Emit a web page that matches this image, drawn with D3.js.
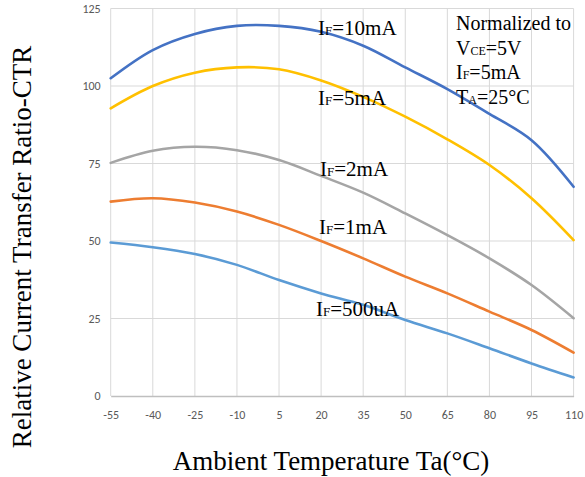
<!DOCTYPE html>
<meta charset="utf-8">
<head>
  <title>Relative CTR vs ambient temperature</title>
</head>
<style>
body { margin: 0; background: #fff; }
.tick text { font-family: Calibri, Carlito, "Liberation Sans", sans-serif; font-size: 12px; fill: #595959; }
.note { font-family: "Times New Roman", "Liberation Serif", serif; fill: #000; }
</style>
<body>
  <div id="content"></div>
  <script src="https://cdnjs.cloudflare.com/ajax/libs/d3/7.8.5/d3.min.js"></script>
  <script>

// Data
var temps = [-55, -40, -25, -10, 5, 20, 35, 50, 65, 80, 95, 110];
var if10mA  = [102.5, 111.6, 116.8, 119.4, 119.4, 117.5, 113, 106, 99, 91, 82.5, 67.5];
var if5mA   = [92.8, 100, 104.3, 106, 105.4, 101.8, 96.5, 90.1, 82.8, 74.5, 63.8, 50.3];
var if2mA   = [75.2, 79.1, 80.4, 79.3, 76.1, 71, 65.6, 58.9, 51.9, 44.4, 35.8, 25.1];
var if1mA   = [62.7, 63.8, 62.4, 59.5, 55.2, 50, 44.4, 38.5, 33.1, 27.2, 21.3, 14];
var if500uA = [49.5, 48, 45.8, 42.3, 37.4, 33.1, 29.4, 24.5, 20.2, 15.4, 10.5, 6];
var yTicks = [0, 25, 50, 75, 100, 125];

var series = [
  {name: '10mA', values: if10mA, color: '#4472C4'},
  {name: '5mA', values: if5mA, color: '#FFC000'},
  {name: '2mA', values: if2mA, color: '#A5A5A5'},
  {name: '1mA', values: if1mA, color: '#ED7D31'},
  {name: '500uA', values: if500uA, color: '#5B9BD5'}
];

var width = 585, height = 477;
var plotLeft = 110.7, plotRight = 573.6, plotTop = 8.5, plotBottom = 396;

var svg = d3.select('#content').append('svg')
  .attr('width', width)
  .attr('height', height);

var x = d3.scaleLinear().domain([-55, 110]).range([plotLeft, plotRight]);
var y = d3.scaleLinear().domain([0, 125]).range([plotBottom, plotTop]);

// grid
svg.append('g').selectAll('line').data(yTicks.slice(1)).join('line')
  .attr('x1', plotLeft).attr('x2', plotRight)
  .attr('y1', d => y(d)).attr('y2', d => y(d))
  .attr('stroke', '#d9d9d9').attr('stroke-width', 1);
svg.append('g').selectAll('line').data(temps).join('line')
  .attr('x1', d => x(d)).attr('x2', d => x(d))
  .attr('y1', plotTop).attr('y2', plotBottom)
  .attr('stroke', '#d9d9d9').attr('stroke-width', 1);

// axes
var xAxis = svg.append('g')
  .attr('transform', 'translate(0,' + plotBottom + ')')
  .call(d3.axisBottom(x).tickValues(temps).tickFormat(d => String(d)).tickSize(0).tickPadding(14));
xAxis.select('.domain').attr('stroke', '#bfbfbf').attr('stroke-width', 1.3);

var yAxis = svg.append('g')
  .attr('transform', 'translate(' + plotLeft + ',0)')
  .call(d3.axisLeft(y).tickValues(yTicks).tickFormat(d => String(d)).tickSize(0).tickPadding(10));
yAxis.select('.domain').remove();

// curves (smoothed like the spreadsheet lines)
var line = d3.line()
  .x((d, i) => x(temps[i]))
  .y(d => y(d))
  .curve(d3.curveCatmullRom.alpha(0.5));

svg.append('g').selectAll('path').data(series).join('path')
  .attr('d', d => line(d.values))
  .attr('fill', 'none')
  .attr('stroke', d => d.color)
  .attr('stroke-width', 2.6)
  .attr('stroke-linecap', 'round');

// curve labels
var labelPos = [[318, 35], [318, 105], [320, 176], [319, 234], [316, 316]];
series.forEach(function(s, i) {
  var t = svg.append('text').attr('class', 'note')
    .attr('x', labelPos[i][0]).attr('y', labelPos[i][1])
    .style('font-size', '21px');
  t.append('tspan').text('I');
  t.append('tspan').text('F').style('font-size', '13px');
  t.append('tspan').text('=' + s.name);
});

// normalization note
var note = [['Normalized to', '', ''], ['V', 'CE', '=5V'], ['I', 'F', '=5mA'], ['T', 'A', '=25°C']];
note.forEach(function(n, i) {
  var t = svg.append('text').attr('class', 'note')
    .attr('x', 456).attr('y', 30 + i * 24.7)
    .style('font-size', '20px');
  t.append('tspan').text(n[0]);
  if (n[1]) {
    t.append('tspan').text(n[1]).style('font-size', '12px');
    t.append('tspan').text(n[2]);
  }
});

// axis titles
svg.append('text').attr('class', 'note')
  .attr('x', 331).attr('y', 470)
  .attr('text-anchor', 'middle')
  .style('font-size', '27px')
  .text('Ambient Temperature Ta(°C)');

svg.append('text').attr('class', 'note')
  .attr('transform', 'translate(31,247) rotate(-90)')
  .attr('text-anchor', 'middle')
  .style('font-size', '27px')
  .text('Relative Current Transfer Ratio-CTR');
</script>
</body>
</html>
